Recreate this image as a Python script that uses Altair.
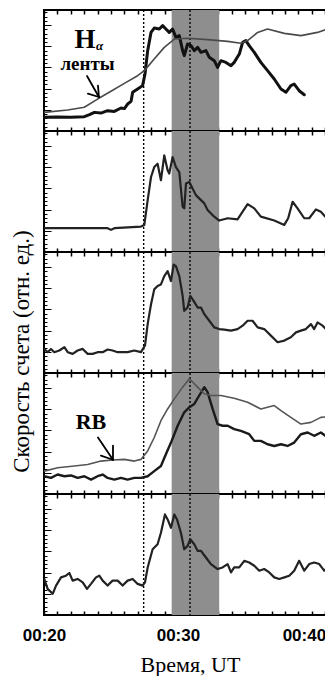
import altair as alt
import pandas as pd

# ---------------- data (time in minutes after 00:00 UT, relative counts 0..100) ----------------
P1_THIN = [(20.02, 15.4), (21.77, 17.4), (23.01, 19.6), (24.00, 26.4), (25.00, 32.8), (26.00, 39.4),
           (26.99, 45.7), (27.49, 49.9), (28.23, 59.5), (28.98, 69.1), (29.73, 76.0), (30.72, 76.6),
           (32.21, 75.5), (33.71, 74.1), (34.70, 72.5), (35.20, 74.7), (35.95, 81.5), (36.69, 84.3),
           (37.94, 80.7), (39.18, 78.8), (40.42, 81.5), (41.67, 86.2)]
P1_THICK = [(20.02, 11.3), (21.00, 11.5), (22.00, 11.3), (23.01, 11.8), (23.40, 13.5), (23.76, 15.4),
            (24.25, 14.8), (24.75, 16.8), (25.25, 16.2), (25.75, 19.0), (26.00, 18.5), (26.24, 22.3),
            (26.50, 24.5), (26.62, 32.0), (26.99, 34.7), (27.36, 37.5), (27.54, 47.1), (27.74, 66.4),
            (27.99, 81.5), (28.23, 85.1), (28.61, 84.3), (28.86, 87.1), (29.10, 84.3), (29.35, 81.5),
            (29.60, 84.3), (29.85, 77.4), (30.10, 78.8), (30.35, 66.4), (30.47, 62.3), (30.72, 71.9),
            (30.97, 70.5), (31.22, 66.4), (31.47, 69.1), (31.72, 65.0), (32.09, 66.4), (32.34, 60.9),
            (32.71, 58.1), (32.96, 52.6), (33.21, 58.1), (33.58, 56.7), (33.96, 54.0), (34.20, 56.7),
            (34.58, 63.6), (34.83, 73.3), (35.07, 74.7), (35.32, 70.5), (35.70, 65.0), (36.19, 56.7),
            (36.69, 49.9), (37.19, 43.0), (37.69, 34.7), (38.06, 32.0), (38.43, 37.5), (38.68, 38.8),
            (39.05, 33.3), (39.43, 30.0)]
P2 = [(20.02, 19.7), (24.75, 19.7), (25.00, 18.3), (25.25, 19.7), (27.24, 21.0), (27.49, 22.4),
      (27.74, 42.9), (27.99, 62.0), (28.23, 70.2), (28.48, 73.0), (28.73, 59.3), (28.98, 79.8),
      (29.23, 67.5), (29.35, 64.8), (29.60, 78.4), (29.85, 70.2), (30.10, 66.1), (30.35, 37.4),
      (30.47, 36.1), (30.60, 56.6), (30.85, 57.9), (31.09, 52.5), (31.34, 47.0), (31.72, 42.9),
      (31.97, 40.2), (32.21, 34.7), (32.71, 29.2), (33.08, 26.0), (33.71, 27.9), (34.45, 27.0),
      (34.83, 33.3), (35.20, 39.6), (35.70, 36.1), (36.19, 29.2), (37.19, 26.0), (37.94, 22.4),
      (38.23, 27.9), (38.56, 41.5), (38.93, 36.1), (39.43, 27.9), (39.80, 27.9), (40.30, 35.2),
      (40.67, 33.3), (41.17, 27.0), (41.79, 24.3)]
P3 = [(20.02, 19.9), (20.27, 17.2), (20.52, 19.9), (20.77, 17.2), (21.14, 18.6), (21.52, 21.3),
      (21.77, 17.2), (22.14, 15.8), (22.51, 18.6), (22.89, 19.9), (23.26, 15.8), (23.63, 15.8),
      (24.00, 17.2), (24.38, 17.2), (24.75, 19.4), (25.12, 18.6), (25.50, 17.2), (25.87, 17.2),
      (26.24, 17.2), (26.74, 18.6), (27.24, 17.2), (27.54, 22.7), (27.74, 40.4), (27.99, 56.8),
      (28.23, 69.1), (28.48, 71.9), (28.73, 73.2), (28.98, 80.1), (29.23, 84.2), (29.48, 76.0),
      (29.68, 89.6), (29.85, 88.3), (30.10, 80.1), (30.35, 63.7), (30.47, 51.4), (30.72, 54.1),
      (30.92, 63.7), (31.17, 59.6), (31.47, 54.1), (31.72, 54.1), (31.97, 48.6), (32.34, 43.2),
      (32.71, 37.7), (33.08, 36.3), (33.46, 35.8), (33.96, 35.0), (34.45, 36.3), (34.83, 39.1),
      (35.20, 43.2), (35.57, 43.2), (35.95, 37.7), (36.44, 36.3), (36.94, 30.9), (37.44, 25.4),
      (37.94, 26.8), (38.43, 29.5), (38.81, 33.6), (39.18, 35.0), (39.55, 36.3), (39.93, 40.4),
      (40.17, 36.3), (40.42, 41.8), (40.80, 39.1), (41.17, 35.0), (41.67, 32.2)]
P4_THIN = [(20.02, 18.9), (21.02, 21.7), (22.26, 23.1), (23.26, 24.4), (24.25, 27.2), (25.12, 28.1),
           (26.00, 28.6), (26.74, 27.2), (27.24, 28.6), (27.74, 35.6), (28.23, 46.7), (28.73, 60.6),
           (29.23, 70.3), (29.73, 78.6), (30.35, 88.3), (30.85, 95.3), (31.47, 88.3), (31.97, 82.8),
           (32.46, 81.4), (33.21, 81.4), (34.20, 79.2), (35.20, 75.8), (36.19, 70.3), (36.69, 71.7),
           (37.19, 73.1), (37.69, 68.9), (38.43, 63.3), (39.18, 57.8), (39.93, 59.2), (40.67, 63.3),
           (41.67, 64.2)]
P4_THICK = [(20.02, 14.7), (20.52, 13.3), (21.02, 16.1), (21.52, 14.7), (22.01, 15.3), (22.51, 13.3),
            (23.01, 14.7), (23.51, 11.9), (24.00, 14.7), (24.38, 16.1), (24.75, 13.3), (25.25, 11.9),
            (25.75, 13.3), (26.24, 11.9), (26.74, 13.3), (27.24, 13.3), (27.74, 14.7), (28.23, 18.9),
            (28.73, 23.1), (29.10, 32.8), (29.48, 42.5), (29.98, 56.4), (30.47, 67.5), (30.85, 71.7),
            (31.22, 74.4), (31.59, 81.4), (31.97, 88.3), (32.21, 84.2), (32.59, 70.3), (32.96, 57.8),
            (33.33, 56.4), (33.71, 56.4), (34.20, 53.6), (34.70, 52.2), (35.32, 49.4), (35.70, 43.9),
            (36.19, 43.9), (36.69, 41.1), (37.19, 39.7), (37.69, 41.1), (38.18, 39.7), (38.68, 42.5),
            (39.18, 49.4), (39.68, 50.8), (40.17, 48.1), (40.67, 50.8), (41.17, 46.7), (41.67, 42.5)]
P5 = [(20.02, 29.8), (20.27, 21.6), (20.65, 17.5), (20.90, 24.3), (21.27, 31.1), (21.64, 32.5),
      (21.89, 34.7), (22.14, 28.4), (22.51, 29.8), (22.89, 27.0), (23.21, 21.6), (23.51, 25.7),
      (23.88, 31.1), (24.13, 32.5), (24.38, 28.4), (24.75, 24.3), (25.12, 28.4), (25.50, 28.4),
      (25.87, 24.3), (26.24, 28.4), (26.62, 29.8), (26.99, 25.7), (27.36, 24.3), (27.54, 27.0),
      (27.74, 39.3), (28.11, 54.4), (28.48, 58.5), (28.73, 68.0), (29.03, 83.1), (29.23, 79.0),
      (29.48, 72.1), (29.73, 83.1), (29.93, 79.0), (30.22, 68.0), (30.47, 54.4), (30.72, 57.1),
      (30.92, 62.6), (31.22, 58.5), (31.47, 53.0), (31.72, 53.0), (32.09, 47.5), (32.46, 42.1),
      (32.96, 38.0), (33.33, 39.3), (33.71, 42.1), (33.96, 35.2), (34.20, 39.3), (34.58, 39.3),
      (34.95, 44.8), (35.32, 43.4), (35.70, 40.7), (36.07, 36.6), (36.44, 38.0), (36.82, 35.2),
      (37.19, 31.1), (37.56, 29.8), (37.94, 31.1), (38.31, 32.5), (38.68, 36.6), (39.05, 44.8),
      (39.43, 36.6), (39.80, 42.1), (40.17, 43.4), (40.55, 42.1), (40.92, 36.6), (41.29, 40.7),
      (41.67, 33.9)]

V_LINES = [27.44, 30.90]           # dotted vertical markers
BAND = [(29.53, 33.08)]            # shaded interval
X_TICKS = list(range(20, 42))      # one tick per minute
Y_MINOR = [3.5 * i for i in range(1, 29)]
Y_MAJOR = [17.5 * i for i in range(1, 6)]

LABEL_H = [(23.06, 75.5, "H")]
LABEL_ALPHA = [(24.15, 70.0, "α")]
LABEL_RIB = [(23.25, 55.0, "ленты")]
ARROW_H = [(23.21, 45.5, 24.10, 28.1), (24.10, 28.1, 24.03, 37.5), (24.10, 28.1, 23.28, 30.8)]
LABEL_RB = [(23.51, 59.2, "RB")]
ARROW_RB = [(24.03, 46.7, 25.15, 28.3), (25.15, 28.3, 25.15, 40.0), (25.15, 28.3, 24.25, 31.7)]

X_TITLE = "Время, UT"
Y_TITLE = "Скорость счета (отн. ед.)"

# ---------------- styling ----------------
W, H = 292, 121
BAND_COLOR = "#8e8e8e"
SERIF = "Liberation Serif"

xs = alt.Scale(domain=[20, 41.8], nice=False, zero=False)
ys = alt.Scale(domain=[0, 100], nice=False, zero=False)


def x_axis(orient, labels=False, title=None):
    kw = dict(orient=orient, values=X_TICKS, tickSize=4, offset=-4, domain=False, grid=False,
              tickColor="black", tickWidth=1.5, title=title)
    if labels:
        kw.update(labels=True, labelExpr="datum.value % 10 == 0 ? '00:' + datum.value : ''",
                  labelFont="Liberation Sans", labelFontWeight="bold", labelFontSize=17,
                  labelPadding=12, labelColor="black", labelFlush=False, labelOverlap=False,
                  labelOffset={"condition": {"test": "datum.value >= 40", "value": -8}, "value": 0})
    else:
        kw.update(labels=False)
    if title:
        kw.update(titleFont=SERIF, titleFontSize=22, titleFontWeight="normal",
                  titlePadding=11, titleColor="black")
    return alt.Axis(**kw)


def y_axis(values, size, title=None):
    kw = dict(orient="left", values=values, tickSize=size, offset=-size, domain=False, grid=False,
              labels=False, tickColor="black", tickWidth=1, title=title)
    if title:
        kw.update(titleFont=SERIF, titleFontSize=23, titleFontWeight="normal",
                  titlePadding=10, titleColor="black", titleY=99)
    return alt.Axis(**kw)


band_df = pd.DataFrame(BAND, columns=["t0", "t1"])
vl_df = pd.DataFrame({"t": V_LINES})


def panel(series, texts=(), arrows=(), y_title=None, bottom_labels=False):
    layers = []
    layers.append(alt.Chart(band_df).mark_rect(color=BAND_COLOR).encode(
        x=alt.X("t0:Q", scale=xs, axis=x_axis("top")), x2="t1:Q"))
    layers.append(alt.Chart(vl_df).mark_rule(color="black", strokeWidth=1.4, strokeDash=[2, 2]).encode(
        x=alt.X("t:Q", scale=xs, axis=None)))
    first = True
    for pts, color, width in series:
        df = pd.DataFrame(pts, columns=["t", "v"])
        if first:
            xa = x_axis("bottom", labels=bottom_labels, title=X_TITLE if bottom_labels else None)
            ya = y_axis(Y_MINOR, 3, y_title)
        else:
            xa, ya = None, None
        layers.append(alt.Chart(df).mark_line(color=color, strokeWidth=width, clip=True,
                                              strokeJoin="round", strokeCap="round").encode(
            x=alt.X("t:Q", scale=xs, axis=xa), y=alt.Y("v:Q", scale=ys, axis=ya)))
        if first:
            layers.append(alt.Chart(df).mark_line(opacity=0, clip=True).encode(
                x=alt.X("t:Q", scale=xs, axis=None), y=alt.Y("v:Q", scale=ys, axis=y_axis(Y_MAJOR, 7))))
        first = False
    for pts, size, style in texts:
        tdf = pd.DataFrame(pts, columns=["t", "v", "label"])
        layers.append(alt.Chart(tdf).mark_text(font=SERIF, fontWeight="bold", fontSize=size,
                                               fontStyle=style, color="black",
                                               align="center", baseline="middle").encode(
            x=alt.X("t:Q", scale=xs, axis=None), y=alt.Y("v:Q", scale=ys, axis=None), text="label:N"))
    for segs in arrows:
        adf = pd.DataFrame(segs, columns=["t0", "v0", "t1", "v1"])
        layers.append(alt.Chart(adf).mark_rule(color="black", strokeWidth=1.8, strokeCap="round").encode(
            x=alt.X("t0:Q", scale=xs, axis=None), x2="t1:Q",
            y=alt.Y("v0:Q", scale=ys, axis=None), y2="v1:Q"))
    return alt.layer(*layers).resolve_axis(x="independent", y="independent").properties(width=W, height=H)


p1 = panel([(P1_THICK, "#111111", 3.0), (P1_THIN, "#4a4a4a", 1.6)],
           texts=[(LABEL_H, 27, "normal"), (LABEL_ALPHA, 13, "italic"), (LABEL_RIB, 19, "normal")],
           arrows=[ARROW_H])
p2 = panel([(P2, "#222222", 2.2)])
p3 = panel([(P3, "#222222", 2.2)], y_title=Y_TITLE)
p4 = panel([(P4_THICK, "#1a1a1a", 2.4), (P4_THIN, "#555555", 1.6)],
           texts=[(LABEL_RB, 22, "normal")], arrows=[ARROW_RB])
p5 = panel([(P5, "#222222", 2.2)], bottom_labels=True)

chart = alt.vconcat(p1, p2, p3, p4, p5, spacing=0, bounds="flush").properties(
    padding={"left": 1, "top": 0, "right": -12, "bottom": 0}
).configure_view(stroke="black", strokeWidth=2).configure_axis(titleColor="black", labelColor="black")

chart.save("out.html", embed_options={"renderer": "svg", "actions": False})
